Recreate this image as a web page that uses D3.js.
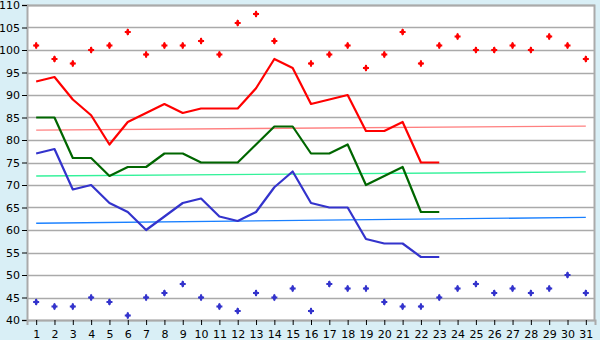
<!DOCTYPE html>
<html>
<head>
<meta charset="utf-8">
<script src="https://cdn.jsdelivr.net/npm/d3@7/dist/d3.min.js"></script>
<style>
  body { margin: 0; background: #d9eff6; }
  svg { display: block; font-family: "DejaVu Sans", Verdana, sans-serif; }
</style>
</head>
<body>
<div id="chart"></div>
<script>
// days of the month
const days = d3.range(1, 32);

// upper scatter points (null = no reading)
const highPoints = [101, 98, 97, 100, 101, 104, 99, 101, 101, 102, 99, 106, 108, 102, null, 97,
  99, 101, 96, 99, 104, 97, 101, 103, 100, 100, 101, 100, 103, 101, 98];
// lower scatter points
const lowPoints = [44, 43, 43, 45, 44, 41, 45, 46, 48, 45, 43, 42, 46, 45, 47, 42,
  48, 47, 47, 44, 43, 43, 45, 47, 48, 46, 47, 46, 47, 50, 46];

// line series, days 1..23
const redLine = [93, 94, 89, 85.5, 79, 84, 86, 88, 86, 87, 87, 87, 91.5, 98, 96, 88,
  89, 90, 82, 82, 84, 75, 75];
const greenLine = [85, 85, 76, 76, 72, 74, 74, 77, 77, 75, 75, 75, 79, 83, 83, 77,
  77, 79, 70, 72, 74, 64, 64];
const blueLine = [77, 78, 69, 70, 66, 64, 60, 63, 66, 67, 63, 62, 64, 69.5, 73, 66,
  65, 65, 58, 57, 57, 54, 54];

// trend lines (value at day 1 and day 31)
const redTrend = [82.2, 83.1];
const greenTrend = [72.0, 72.9];
const blueTrend = [61.5, 62.8];

const yTicks = d3.range(40, 111, 5);

const width = 600, height = 340;
const margin = { top: 5, right: 5, bottom: 20, left: 27 };

const svg = d3.select('#chart').append('svg')
  .attr('width', width)
  .attr('height', height);

const x = d3.scalePoint()
  .domain(days)
  .range([margin.left, width - margin.right])
  .padding(0.5);

const y = d3.scaleLinear()
  .domain([40, 110])
  .range([height - margin.bottom, margin.top]);

// plot background
svg.append('rect')
  .attr('x', margin.left)
  .attr('y', margin.top)
  .attr('width', width - margin.left - margin.right)
  .attr('height', height - margin.top - margin.bottom)
  .attr('fill', '#ffffff');

// gridlines
svg.append('g')
  .selectAll('line')
  .data(yTicks)
  .enter().append('line')
  .attr('x1', margin.left)
  .attr('x2', width - margin.right)
  .attr('y1', d => Math.round(y(d)) + 0.5)
  .attr('y2', d => Math.round(y(d)) + 0.5)
  .attr('stroke', '#aaaaaa')
  .attr('stroke-width', 1.5);

// frame: top and right
svg.append('path')
  .attr('d', `M${margin.left},${margin.top + 0.5}H${width - margin.right - 0.5}V${height - margin.bottom}`)
  .attr('fill', 'none')
  .attr('stroke', '#aaaaaa')
  .attr('stroke-width', 2);

// y axis
const yAxis = svg.append('g')
  .attr('transform', `translate(${margin.left},0)`)
  .call(d3.axisLeft(y).tickValues(yTicks).tickSize(5).tickPadding(2));
yAxis.select('.domain').attr('stroke', '#aaaaaa').attr('stroke-width', 2);
yAxis.selectAll('.tick line').attr('stroke', '#000');
yAxis.selectAll('text').attr('font-size', 11).attr('fill', '#000')
  .attr('font-family', '"DejaVu Sans", Verdana, sans-serif');

// x axis
const xAxis = svg.append('g')
  .attr('transform', `translate(0,${height - margin.bottom})`)
  .call(d3.axisBottom(x).tickSize(5).tickPadding(5));
xAxis.select('.domain').attr('stroke', '#aaaaaa').attr('stroke-width', 2);
xAxis.selectAll('.tick line').attr('stroke', '#000');
xAxis.selectAll('text').attr('font-size', 11).attr('fill', '#000')
  .attr('font-family', '"DejaVu Sans", Verdana, sans-serif');

// trend lines
const trends = [
  { vals: redTrend, color: '#ff8080' },
  { vals: greenTrend, color: '#33f29a' },
  { vals: blueTrend, color: '#1a80ff' }
];
svg.append('g')
  .selectAll('line')
  .data(trends)
  .enter().append('line')
  .attr('x1', x(1))
  .attr('x2', x(31))
  .attr('y1', d => y(d.vals[0]))
  .attr('y2', d => y(d.vals[1]))
  .attr('stroke', d => d.color)
  .attr('stroke-width', 1.3);

// data lines
const line = d3.line()
  .x((d, i) => x(days[i]))
  .y(d => y(d));

const series = [
  { vals: redLine, color: '#ff0000' },
  { vals: greenLine, color: '#006600' },
  { vals: blueLine, color: '#3333cc' }
];
svg.append('g')
  .selectAll('path')
  .data(series)
  .enter().append('path')
  .attr('d', d => line(d.vals))
  .attr('fill', 'none')
  .attr('stroke', d => d.color)
  .attr('stroke-width', 2.2)
  .attr('stroke-linejoin', 'round');

// scatter markers: small diamond with a cross through it
const diamond = d3.symbol().type(d3.symbolDiamond).size(16);
const cross = d3.symbol().type(d3.symbolCross).size(20);
const scatter = [
  { vals: highPoints, color: '#ff0000' },
  { vals: lowPoints, color: '#3333cc' }
];
scatter.forEach(s => {
  const pts = svg.append('g')
    .selectAll('g')
    .data(s.vals.map((v, i) => ({ day: days[i], v })).filter(d => d.v !== null))
    .enter().append('g')
    .attr('transform', d => `translate(${x(d.day)},${y(d.v)})`)
    .attr('fill', s.color);
  pts.append('path').attr('d', diamond);
  pts.append('path').attr('d', cross);
});
</script>
</body>
</html>
